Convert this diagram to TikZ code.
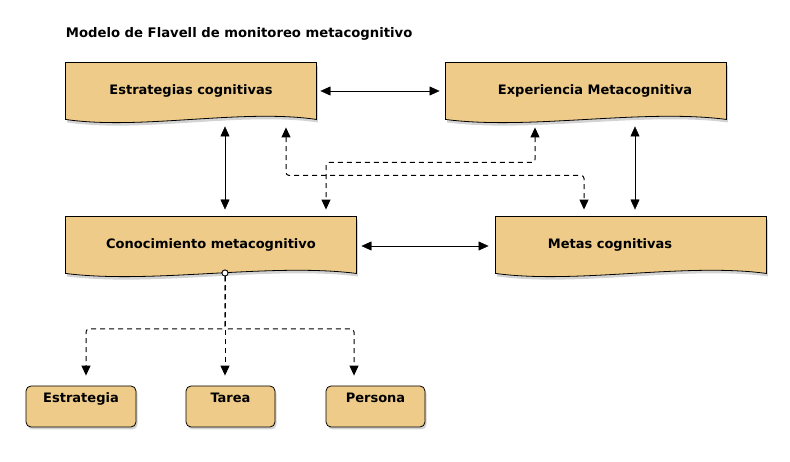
\documentclass[tikz,border=0pt]{standalone}
\usepackage{fontspec}
\setmainfont{DejaVu Sans}
\usetikzlibrary{arrows.meta,calc,shadows,backgrounds}
\definecolor{boxtan}{RGB}{238,203,137}
\tikzset{
  docbox/.style 2 args={draw=none,inner sep=0pt,minimum width=#1,minimum height=#2,font=\fontsize{13bp}{15bp}\selectfont\bfseries},
  smallbox/.style={draw=black,line width=0.8bp,fill=boxtan,rounded corners=5bp,inner sep=0pt,minimum width=#1,text height=17bp,text depth=24bp,font=\fontsize{13bp}{15bp}\selectfont\bfseries,drop shadow={shadow xshift=1.5bp,shadow yshift=-2.5bp,opacity=0.35}},
  docfill/.style={fill=boxtan,draw=black,line width=0.8bp,drop shadow={shadow xshift=1.5bp,shadow yshift=-3bp,opacity=0.35}},
  dashline/.style={line width=1bp,dash pattern=on 5bp off 4bp,rounded corners=3bp},
}
% wavy bottom box behind a named node
\newcommand\docshape[1]{%
  \filldraw [docfill] (#1.north west) -- (#1.north east) -- (#1.south east)
    .. controls ($(#1.south east)!0.3!(#1.south west)+(0,11bp)$) and ($(#1.south east)!0.7!(#1.south west)+(0,-11bp)$) .. (#1.south west) -- cycle;}
\begin{document}
\begin{tikzpicture}[>={Triangle[length=10bp,width=9bp]},line join=bevel,line width=0.9bp]
\useasboundingbox (0bp,0bp) rectangle (790bp,462bp);
%%
\node (node_title) at (65.5bp,428bp) [anchor=west,inner sep=0pt,font=\fontsize{13.2bp}{15bp}\selectfont\bfseries] {Modelo de Flavell de monitoreo metacognitivo};
  \node (node_estr) at (191bp,371bp) [docbox={250bp}{56bp}] {Estrategias cognitivas};
  \node (node_exp) at (586bp,371bp) [docbox={280bp}{56bp}] {\hspace*{18bp}Experiencia Metacognitiva};
  \node (node_con) at (211bp,217bp) [docbox={290bp}{56bp}] {Conocimiento metacognitivo};
  \node (node_metas) at (631bp,217bp) [docbox={270bp}{56bp}] {Metas cognitivas\hspace*{42bp}};
  \node (node_estrat) at (81bp,55.5bp) [smallbox=110bp] {Estrategia};
  \node (node_tarea) at (230.5bp,55.5bp) [smallbox=89bp] {Tarea};
  \node (node_persona) at (375.5bp,55.5bp) [smallbox=99bp] {Persona};
\begin{pgfonlayer}{background}
  \docshape{node_estr}
  \docshape{node_exp}
  \docshape{node_con}
  \docshape{node_metas}
\end{pgfonlayer}
%
  \draw [black,<->] ([xshift=4bp]node_estr.east) -- ([xshift=-6bp]node_exp.west);
  \draw [black,<->] ([xshift=5bp,yshift=-1bp]node_con.east) -- ([xshift=-7bp,yshift=-1bp]node_metas.west);
  \draw [black,<->] ([xshift=34bp,yshift=-7bp]node_estr.south) -- ([xshift=14bp,yshift=7bp]node_con.north);
  \draw [black,<->] ([xshift=49bp,yshift=-7bp]node_exp.south) -- ([xshift=4bp,yshift=7bp]node_metas.north);
  \draw [black,dashline,<->] ([xshift=95bp,yshift=-8bp]node_estr.south) -- ++(0,-48bp) -| ([xshift=-47bp,yshift=7bp]node_metas.north);
  \draw [black,dashline,<->] ([xshift=-51bp,yshift=-8bp]node_exp.south) -- ++(0,-35bp) -| ([xshift=115bp,yshift=7bp]node_con.north);
%
  \node (node_dot) at (225bp,189bp) [circle,draw=black,fill=white,line width=0.8bp,inner sep=0pt,minimum size=6bp] {};
  \draw [black,dashline,->] (node_dot) -- ++(0,-56bp) -| ([xshift=5bp,yshift=10bp]node_estrat.north);
  \draw [black,dashline,->] (node_dot) -- ++(0,-56bp) -| ([xshift=-21.5bp,yshift=10bp]node_persona.north);
  \draw [black,dashline,->] (node_dot) -- ([xshift=-5.5bp,yshift=10bp]node_tarea.north);
  \node at (node_dot) [circle,draw=black,fill=white,line width=0.8bp,inner sep=0pt,minimum size=6bp] {};
%
\end{tikzpicture}
\end{document}
